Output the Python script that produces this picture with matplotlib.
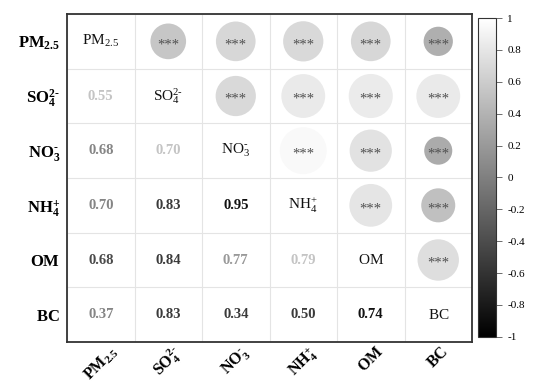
import matplotlib
matplotlib.use('Agg')
import matplotlib.pyplot as plt
import numpy as np
from matplotlib.colors import LinearSegmentedColormap, Normalize

plt.rcParams['font.family'] = 'Liberation Serif'
plt.rcParams['mathtext.fontset'] = 'custom'
plt.rcParams['mathtext.rm'] = 'Liberation Serif'
plt.rcParams['mathtext.bf'] = 'Liberation Serif:bold'
plt.rcParams['mathtext.it'] = 'Liberation Serif:italic'

# species names (mathtext, plain and bold)
names = ['PM_{2.5}', r'SO_4^{2\text{-}}', r'NO_3^{\text{-}}', 'NH_4^{+}', 'OM', 'BC']
names_plain = [r'$\mathrm{' + n + '}$' for n in names]
names_bold = [r'$\mathbf{' + n + '}$' for n in names]

# Pearson r (symmetric, read from the lower triangle)
corr = [
    [1.00, 0.55, 0.68, 0.70, 0.68, 0.37],
    [0.55, 1.00, 0.70, 0.83, 0.84, 0.83],
    [0.68, 0.70, 1.00, 0.95, 0.77, 0.34],
    [0.70, 0.83, 0.95, 1.00, 0.79, 0.50],
    [0.68, 0.84, 0.77, 0.79, 1.00, 0.74],
    [0.37, 0.83, 0.34, 0.50, 0.74, 1.00],
]
# significance marks for the upper triangle
signif = '***'

# grey level of each number in the lower triangle (style only)
num_grey = [
    [None, None, None, None, None, None],
    ['#c4c4c4', None, None, None, None, None],
    ['#858585', '#c4c4c4', None, None, None, None],
    ['#858585', '#3a3a3a', '#111111', None, None, None],
    ['#4a4a4a', '#3a3a3a', '#999999', '#c4c4c4', None, None],
    ['#858585', '#3a3a3a', '#3a3a3a', '#3a3a3a', '#111111', None],
]

corr = np.array(corr)
n = len(names)

cmap = LinearSegmentedColormap.from_list('grey', ['#000000', '#ffffff'])
norm = Normalize(-1, 1)

fig = plt.figure(figsize=(5.36, 3.85), dpi=100)
ax = fig.add_axes([0.125, 0.1117, 0.7556, 0.8519])

# circles and stars in the upper triangle
xs, ys, vals = [], [], []
for i in range(n):
    for j in range(i + 1, n):
        xs.append(j)
        ys.append(i)
        vals.append(corr[i, j])
vals = np.array(vals)
ax.scatter(xs, ys, s=1200 * np.abs(vals), c=vals, cmap=cmap, norm=norm,
           edgecolors='none', zorder=2)
for x, y in zip(xs, ys):
    ax.text(x, y + 0.06, signif, ha='center', va='center', fontsize=10.5,
            color='#505050', zorder=3)

# names on the diagonal
for i in range(n):
    ax.text(i, i, names_plain[i], ha='center', va='center', fontsize=11,
            color='#111111')

# numbers in the lower triangle
for i in range(n):
    for j in range(i):
        ax.text(j, i, f'{corr[i, j]:.2f}', ha='center', va='center',
                fontsize=10.5, fontweight='bold', color=num_grey[i][j])

ax.set_xlim(-0.5, n - 0.5)
ax.set_ylim(n - 0.5, -0.5)
ax.set_xticks(range(n))
ax.set_yticks(range(n))
ax.set_xticklabels(names_bold, rotation=45, ha='center', fontsize=11.5)
ax.set_yticklabels(names_bold, fontsize=12)
ax.tick_params(axis='both', length=0)
ax.tick_params(axis='x', pad=1)
ax.tick_params(axis='y', pad=5)
ax.set_xticks(np.arange(-0.5, n), minor=True)
ax.set_yticks(np.arange(-0.5, n), minor=True)
ax.tick_params(which='minor', length=0)
ax.grid(which='minor', color='#e4e4e4', lw=0.8)
ax.grid(which='major', visible=False)
for sp in ax.spines.values():
    sp.set_linewidth(1.3)
    sp.set_color('#333333')

# colour bar
cax = fig.add_axes([0.892, 0.125, 0.034, 0.828])
sm = plt.cm.ScalarMappable(norm=norm, cmap=cmap)
cb = fig.colorbar(sm, cax=cax, ticks=np.arange(-1, 1.01, 0.2))
cb.ax.set_yticklabels(['-1', '-0.8', '-0.6', '-0.4', '-0.2', '0', '0.2',
                       '0.4', '0.6', '0.8', '1'])
cb.ax.tick_params(labelsize=8, length=4, width=0.6, color='#555555', pad=4)
cb.outline.set_linewidth(0.8)
cb.outline.set_edgecolor('#333333')

fig.savefig('out.png', dpi=100)
